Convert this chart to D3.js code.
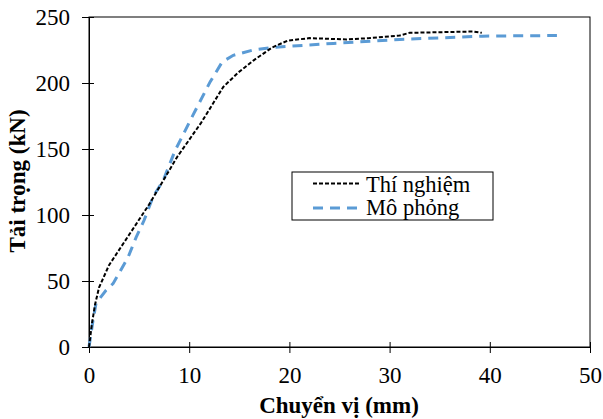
<!DOCTYPE html>
<html><head><meta charset="utf-8">
<script src="https://cdn.jsdelivr.net/npm/d3@7"></script>
<style>body{margin:0;background:#fff}svg{display:block}
svg text{font-family:"Times New Roman","Liberation Serif",Tinos,"DejaVu Serif","Noto Serif",Times,serif !important;}</style>
</head><body>
<svg id="c" width="603" height="419"></svg>
<script>
const xTicks = [0, 10, 20, 30, 40, 50];
const yTicks = [0, 50, 100, 150, 200, 250];
const seriesNames = ["Thí nghiệm", "Mô phỏng"];
const expX = [0, 0.3, 0.6, 1.0, 2.0, 4.0, 6.0, 7.4, 8.8, 11.2, 13.4, 14.9, 16.4, 18.3, 19.8, 22, 25.7, 28, 31, 32, 38.3, 39.2];
const expY = [0, 18, 32, 45, 62, 85, 108, 126, 144, 170, 197, 208, 217, 227, 232, 234, 233, 234, 236, 238, 239, 238];
const simX = [0, 0.1, 0.4, 0.7, 1.7, 2.4, 3.0, 3.9, 4.7, 5.5, 6.4, 7.4, 8.6, 10.4, 12.1, 13.3, 14.4, 16.4, 18.4, 24.4, 31, 39.3, 46.7];
const simY = [0, 5, 20, 33, 43, 48, 56, 68, 83, 96, 114, 126, 149, 176, 201, 216, 221, 225, 227, 230, 233, 235.5, 236];

const svg = d3.select("#c");
const L = 89, R = 590, T = 17, B = 347;
const FS = 23;
const x = d3.scaleLinear().domain([0, 50]).range([L, R]);
const y = d3.scaleLinear().domain([0, 250]).range([B, T]);

// frame
svg.append("rect").attr("x", L).attr("y", T).attr("width", R - L).attr("height", B - T)
  .attr("fill", "none").attr("stroke", "#000").attr("stroke-width", 1);

// axes
const xa = svg.append("g").attr("transform", `translate(0,${B})`)
  .call(d3.axisBottom(x).tickValues(xTicks).tickSize(0).tickPadding(20));
xa.selectAll(".tick").append("line").attr("y1", -5).attr("y2", 6).attr("stroke", "#000");
const ya = svg.append("g").attr("transform", `translate(${L},0)`)
  .call(d3.axisLeft(y).tickValues(yTicks).tickSize(0).tickPadding(19));
ya.selectAll(".tick").append("line").attr("x1", -7).attr("x2", 5).attr("stroke", "#000");
[xa, ya].forEach(a => {
  a.attr("font-family", null);
  a.select(".domain").attr("stroke", "#000");
  a.selectAll("text").attr("font-size", FS).attr("fill", "#000");
});

// lines
const line = d3.line().x(d => x(d[0])).y(d => y(d[1]));
const exp = expX.map((v, i) => [v, expY[i]]);
const sim = simX.map((v, i) => [v, simY[i]]);
svg.append("path").datum(sim).attr("d", line).attr("fill", "none")
  .attr("stroke", "#5B9BD5").attr("stroke-width", 3).attr("stroke-dasharray", "10,7");
svg.append("path").datum(exp).attr("d", line).attr("fill", "none")
  .attr("stroke", "#000").attr("stroke-width", 2).attr("stroke-dasharray", "4,2");

// axis titles
svg.append("text").attr("x", 339).attr("y", 413).attr("text-anchor", "middle")
  .attr("font-size", FS).attr("font-weight", "bold").text("Chuyển vị (mm)");
svg.append("text").attr("transform", `translate(25,181) rotate(-90)`).attr("text-anchor", "middle")
  .attr("font-size", FS).attr("font-weight", "bold").text("Tải trọng (kN)");

// legend
const lg = svg.append("g");
lg.append("rect").attr("x", 292).attr("y", 172).attr("width", 201).attr("height", 48)
  .attr("fill", "#fff").attr("stroke", "#000").attr("stroke-width", 1);
const styles = [{c: "#000", w: 2, d: "4,2"}, {c: "#5B9BD5", w: 3, d: "10,7"}];
seriesNames.forEach((n, i) => {
  const yy = 183.5 + i * 24.5;
  lg.append("line").attr("x1", 313).attr("x2", 361).attr("y1", yy).attr("y2", yy)
    .attr("stroke", styles[i].c).attr("stroke-width", styles[i].w).attr("stroke-dasharray", styles[i].d);
  lg.append("text").attr("x", 366).attr("y", 191.5 + i * 23.5).attr("font-size", 22.5).text(n);
});
</script>
</body></html>
